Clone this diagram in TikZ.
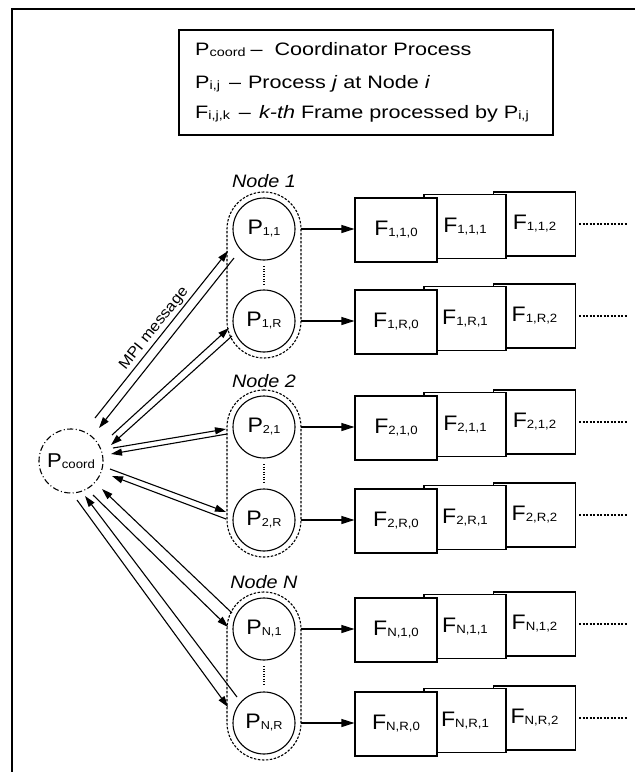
\documentclass[tikz,border=0pt]{standalone}
\usepackage{fontspec}
\setmainfont{Liberation Sans}[FakeStretch=1.1]
\newfontfamily\legfont{Liberation Sans}[FakeStretch=1.2]
\usetikzlibrary{arrows.meta,calc,fit}
\newcommand{\sbx}[2]{\raisebox{-1pt}{\fontsize{#1}{#1}\selectfont #2}}
\newcommand{\bigtxt}{\fontsize{21}{24}\selectfont}
\begin{document}
\begin{tikzpicture}[x=1pt,y=-1pt,
  proc/.style={circle,draw,line width=1.1pt,minimum size=62pt,inner sep=0pt,outer sep=6pt,font=\bigtxt},
  coordp/.style={circle,draw,line width=1.1pt,minimum size=64pt,inner sep=0pt,dash pattern=on 6pt off 2.5pt on 1pt off 2.5pt,font=\fontsize{20}{22}\selectfont},
  grp/.style={draw,line width=1.1pt,dash pattern=on 2.5pt off 1.5pt,rounded corners=37pt,inner sep=0pt},
  frm/.style={draw,fill=white,line width=1.1pt,minimum width=82pt,minimum height=64pt,inner sep=0pt,font=\bigtxt},
  arr/.style={line width=1.1pt,-{Triangle[length=11pt,width=7pt]}},
  harr/.style={line width=1.1pt,-{Triangle[length=13pt,width=8pt]}},
  trail/.style={line width=1.1pt,dash pattern=on 2pt off 1.5pt},
  vdots/.style={line width=1.1pt,dash pattern=on 1pt off 1.5pt},
  nlabel/.style={font=\fontsize{18}{20}\selectfont\itshape,anchor=base,inner sep=0pt},
  leg/.style={anchor=base west,inner sep=0pt,font=\legfont\fontsize{18}{20}\selectfont},
]
\useasboundingbox (0,0) rectangle (635,772);
% outer frame
\draw[line width=1.6pt] (12,772) -- (12,9) -- (635,9);
% legend
\node[draw,line width=1.5pt,minimum width=374pt,minimum height=105pt,inner sep=0pt] (legend) at (366,82.5) {};
\node[leg] (l1) at (195,55) {P\sbx{12}{coord}\hspace{5pt}–\hspace{12pt}Coordinator Process};
\node[leg] (l2) at (195,88) {P\sbx{12}{i,j}\hspace{9pt}–\hspace{7pt}Process \textit{j} at Node \textit{i}};
\node[leg] (l3) at (195,118) {F\sbx{12}{i,j,k}\hspace{9pt}–\hspace{8pt}\textit{k-th} Frame processed by P\sbx{12}{i,j}};
% coordinator
\node[coordp] (pc) at (71,461) {P\sbx{12}{coord}};
% processes and frames
\foreach \id/\lab/\cy in {11/{1,1}/229, 1R/{1,R}/321, 21/{2,1}/427, 2R/{2,R}/520, N1/{N,1}/629, NR/{N,R}/723} {
  \node[proc] (p\id) at (264,\cy) {P\sbx{11.5}{\lab}};
  \node[frm] (f\id2) at (534.5,\cy-5) {F\sbx{12}{\lab,2}};
  \node[frm] (f\id1) at (465,\cy-2.5) {F\sbx{12}{\lab,1}};
  \node[frm] (f\id0) at (396,\cy+1) {F\sbx{12}{\lab,0}};
  \draw[harr] (p\id.east) -- (p\id.east -| f\id0.west);
  \draw[trail] ([xshift=3pt]f\id2.east) -- ++(49,0);
}
% node groups
\node[grp,fit=(p11)(p1R)] (g1) {};
\node[grp,fit=(p21)(p2R)] (g2) {};
\node[grp,fit=(pN1)(pNR)] (gN) {};
\draw[vdots] (p11.south) -- (p1R.north);
\draw[vdots] (p21.south) -- (p2R.north);
\draw[vdots] (pN1.south) -- (pNR.north);
\node[nlabel] (n1) at (264,187) {Node 1};
\node[nlabel] (n2) at (264,387) {Node 2};
\node[nlabel] (nN) at (264,588) {Node N};
% MPI messages
\draw[arr] ($(pc)+(24,-43)$) -- node[sloped,above,pos=0.5,inner sep=2pt,font=\fontsize{15}{17}\selectfont] (mpi) {MPI message} ($(p11)+(-36,22)$);
\draw[arr] ($(p11)+(-30,29)$) -- ($(pc)+(28,-33)$);
\draw[arr] ($(pc)+(41,-26)$) -- ($(p1R)+(-35,7)$);
\draw[arr] ($(p1R)+(-32,15)$) -- ($(pc)+(40,-16)$);
\draw[arr] ($(pc)+(42,-13)$) -- ($(p21)+(-38,2)$);
\draw[arr] ($(p21)+(-37,7)$) -- ($(pc)+(40,-7)$);
\draw[arr] ($(pc)+(39,8)$) -- ($(p2R)+(-38,-8)$);
\draw[arr] ($(p2R)+(-38,-1)$) -- ($(pc)+(41,15)$);
\draw[arr] ($(pc)+(22,34)$) -- ($(pN1)+(-36,-2)$);
\draw[arr] ($(pN1)+(-32,-16)$) -- ($(pc)+(31,28)$);
\draw[arr] ($(pc)+(6,39)$) -- ($(pNR)+(-36,-16)$);
\draw[arr] ($(pNR)+(-27,-26)$) -- ($(pc)+(14,35)$);
\end{tikzpicture}
\end{document}
